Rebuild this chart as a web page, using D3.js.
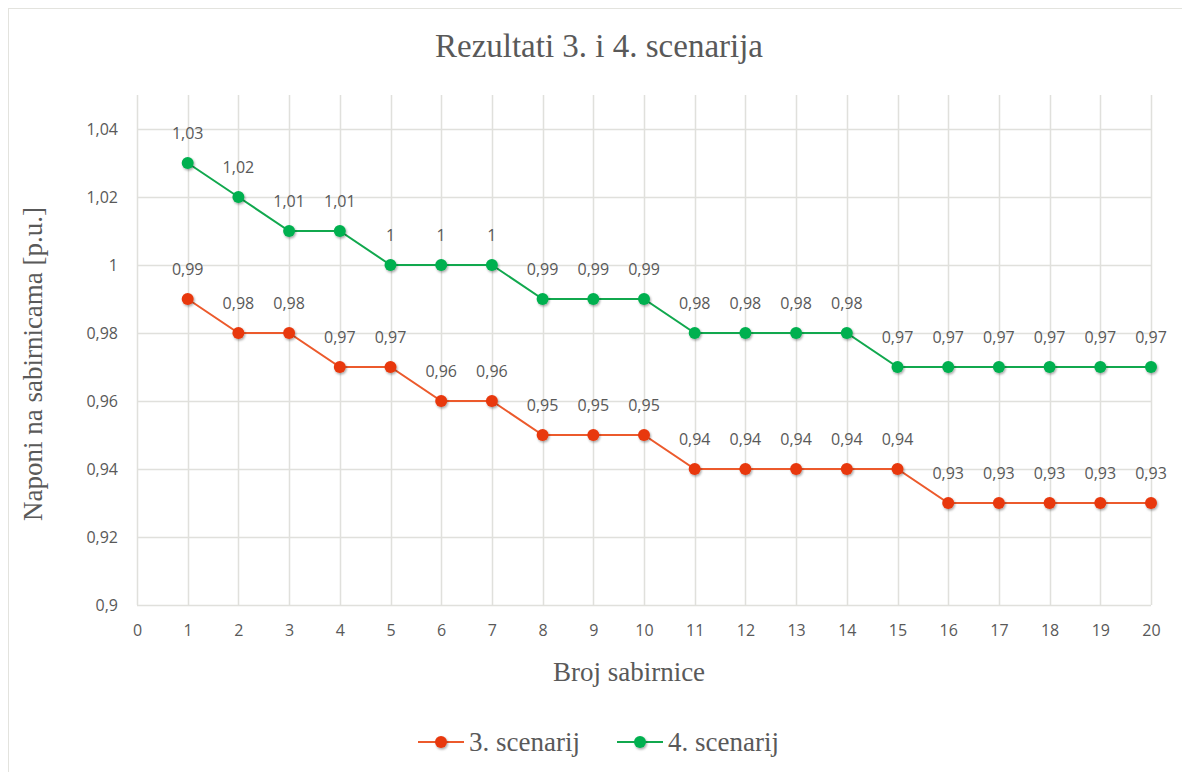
<!DOCTYPE html>
<html>
<head>
<meta charset="utf-8">
<script src="https://cdn.jsdelivr.net/npm/d3@7"></script>
<style>
  body { margin: 0; background: #fff; }
  svg { display: block; }
</style>
</head>
<body>
<div id="chart"></div>
<script>
// values
var buses = d3.range(1, 21);
var scenario3 = [0.99, 0.98, 0.98, 0.97, 0.97, 0.96, 0.96, 0.95, 0.95, 0.95,
                 0.94, 0.94, 0.94, 0.94, 0.94, 0.93, 0.93, 0.93, 0.93, 0.93];
var scenario4 = [1.03, 1.02, 1.01, 1.01, 1, 1, 1, 0.99, 0.99, 0.99,
                 0.98, 0.98, 0.98, 0.98, 0.97, 0.97, 0.97, 0.97, 0.97, 0.97];
var xTicks = d3.range(0, 21);
var yTicks = [0.9, 0.92, 0.94, 0.96, 0.98, 1, 1.02, 1.04];

var series = [
  { name: '3. scenarij', values: scenario3, line: '#ec5a2c', marker: '#e8380c' },
  { name: '4. scenarij', values: scenario4, line: '#11a84e', marker: '#00b050' }
];

var W = 1182, H = 772;
var plotL = 137, plotR = 1151, plotT = 95, plotB = 605;
var serif = '"Liberation Serif", "Times New Roman", serif';
var sans = '"Open Sans", "Noto Sans", sans-serif';
var textCol = '#595959';
var gridCol = '#e0e0dc';

var fmt = function(v) { return String(+v.toFixed(2)).replace('.', ','); };

var svg = d3.select('#chart').append('svg').attr('width', W).attr('height', H);

var defs = svg.append('defs');
var f = defs.append('filter').attr('id', 'shadow').attr('x', '-50%').attr('y', '-50%').attr('width', '200%').attr('height', '200%');
f.append('feDropShadow').attr('dx', 1).attr('dy', 1.5).attr('stdDeviation', 1.2).attr('flood-color', '#000').attr('flood-opacity', 0.35);

// chart border
svg.append('rect').attr('x', 8.5).attr('y', 8.5).attr('width', W).attr('height', H)
  .attr('fill', 'none').attr('stroke', '#e3e3de');

var x = d3.scaleLinear().domain([0, 20]).range([plotL, plotR]);
var y = d3.scaleLinear().domain([0.9, 1.05]).range([plotB, plotT]);

// gridlines
svg.append('g').selectAll('line').data(yTicks).enter().append('line')
  .attr('x1', plotL).attr('x2', plotR)
  .attr('y1', function(d) { return Math.round(y(d)) + 0.5; })
  .attr('y2', function(d) { return Math.round(y(d)) + 0.5; })
  .attr('stroke', gridCol).attr('stroke-width', 1.5);
svg.append('g').selectAll('line').data(xTicks).enter().append('line')
  .attr('y1', plotT).attr('y2', plotB)
  .attr('x1', function(d) { return Math.round(x(d)) + 0.5; })
  .attr('x2', function(d) { return Math.round(x(d)) + 0.5; })
  .attr('stroke', gridCol).attr('stroke-width', 1.5);

// axes
var xAxis = svg.append('g').attr('transform', 'translate(0,' + plotB + ')')
  .call(d3.axisBottom(x).tickValues(xTicks).tickSize(0).tickPadding(20).tickFormat(d3.format('d')));
var yAxis = svg.append('g').attr('transform', 'translate(' + plotL + ',0)')
  .call(d3.axisLeft(y).tickValues(yTicks).tickSize(0).tickPadding(19).tickFormat(fmt));
[xAxis, yAxis].forEach(function(a) {
  a.select('.domain').remove();
  a.selectAll('text').attr('font-family', sans).attr('font-size', 16).attr('fill', textCol);
});

// titles
svg.append('text').attr('x', 599).attr('y', 57).attr('text-anchor', 'middle')
  .attr('font-family', serif).attr('font-size', 33).attr('fill', textCol)
  .text('Rezultati 3. i 4. scenarija');
svg.append('text').attr('x', 629).attr('y', 681).attr('text-anchor', 'middle')
  .attr('font-family', serif).attr('font-size', 27).attr('fill', textCol)
  .text('Broj sabirnice');
svg.append('text').attr('transform', 'translate(42,364) rotate(-90)').attr('text-anchor', 'middle')
  .attr('font-family', serif).attr('font-size', 27).attr('fill', textCol)
  .text('Naponi na sabirnicama [p.u.]');

// series
var line = d3.line().x(function(d, i) { return x(buses[i]); }).y(function(d) { return y(d); });

series.forEach(function(s) {
  var g = svg.append('g');
  g.append('path').attr('d', line(s.values)).attr('fill', 'none')
    .attr('stroke', s.line).attr('stroke-width', 2);
  g.selectAll('circle').data(s.values).enter().append('circle')
    .attr('cx', function(d, i) { return x(buses[i]); })
    .attr('cy', function(d) { return y(d); })
    .attr('r', 6).attr('fill', s.marker).attr('filter', 'url(#shadow)');
  g.selectAll('text').data(s.values).enter().append('text')
    .attr('x', function(d, i) { return x(buses[i]); })
    .attr('y', function(d) { return y(d) - 24; })
    .attr('text-anchor', 'middle')
    .attr('font-family', sans).attr('font-size', 16).attr('fill', textCol)
    .text(fmt);
});

// legend
var legendX = [418, 617];
series.forEach(function(s, i) {
  var g = svg.append('g').attr('transform', 'translate(' + legendX[i] + ',742)');
  g.append('line').attr('x1', 0).attr('x2', 46).attr('stroke', s.line).attr('stroke-width', 2);
  g.append('circle').attr('cx', 23).attr('r', 6).attr('fill', s.marker).attr('filter', 'url(#shadow)');
  g.append('text').attr('x', 51).attr('y', 9).attr('font-family', serif).attr('font-size', 27)
    .attr('fill', textCol).text(s.name);
});
</script>
</body>
</html>
